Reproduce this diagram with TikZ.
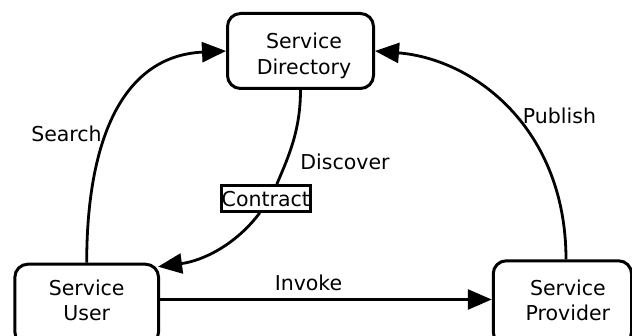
\documentclass[tikz,border=0pt]{standalone}
\usepackage{fontspec}
\setmainfont{DejaVu Sans}
\usetikzlibrary{arrows.meta}
\newcommand{\mytop}[1]{\rule{0pt}{#1}}
\newcommand{\mybot}[1]{\rule[-#1]{0pt}{#1}}
\tikzset{
  boxnode/.style={draw, line width=3pt, rounded corners=13pt, align=center, inner sep=0pt},
  conn/.style={line width=2.8pt},
  tipped/.style={-{Triangle[length=24pt,width=20pt]}},
  lbl/.style={anchor=base, inner sep=0pt},
}
\begin{document}
\begin{tikzpicture}[x=1pt,y=1pt,font=\fontsize{20.5pt}{25.5pt}\selectfont]
\useasboundingbox (0,0) rectangle (632,336);
\clip (0,0) rectangle (632,336);
\fill[white] (0,0) rectangle (632,336);

\node[boxnode, minimum width=146pt, minimum height=75pt] (dir) at (300.5,285)
  {\mytop{26pt}\hspace*{7pt}Service\\\hspace*{7pt}Directory\mybot{5pt}};
\node[boxnode, minimum width=143.7pt, minimum height=80.8pt] (user) at (86.7,31.4)
  {\mytop{18.8pt}Service\\User\mybot{12pt}};
\node[boxnode, minimum width=138.3pt, minimum height=84.2pt] (prov) at (562.4,33.1)
  {\mytop{18.2pt}\hspace*{11pt}Service\\\hspace*{11pt}Provider\mybot{8pt}};
\node[draw, line width=2.6pt, fill=white, inner sep=0pt, minimum width=89pt,
      text height=21.2pt, text depth=4.8pt] (contract) at (265.8,137.5) {Contract};

\node[lbl] (search) at (66.5,194.3) {Search};
\node[lbl] (publish) at (559.5,212.7) {Publish};
\node[lbl] (discover) at (345,166) {Discover};
\node[lbl] (invoke) at (308.5,45.3) {Invoke};

\draw[conn, tipped] (user.north) .. controls +(0,120) and +(-105,-5) .. (dir.west);
\draw[conn, tipped] ([xshift=3.6pt]prov.north) .. controls +(0,130) and +(100,-8) .. (dir.east);
\draw[conn] (dir.south) .. controls +(0,-40) and +(12,28) .. ([xshift=11pt]contract.north);
\draw[conn, tipped] ([xshift=-6pt]contract.south) .. controls +(-24,-32) and +(45,6) .. ([shift={(-2pt,-4pt)}]user.north east);
\draw[conn, tipped] ([yshift=5.1pt]user.east) -- ([yshift=3.4pt]prov.west);
\end{tikzpicture}
\end{document}
